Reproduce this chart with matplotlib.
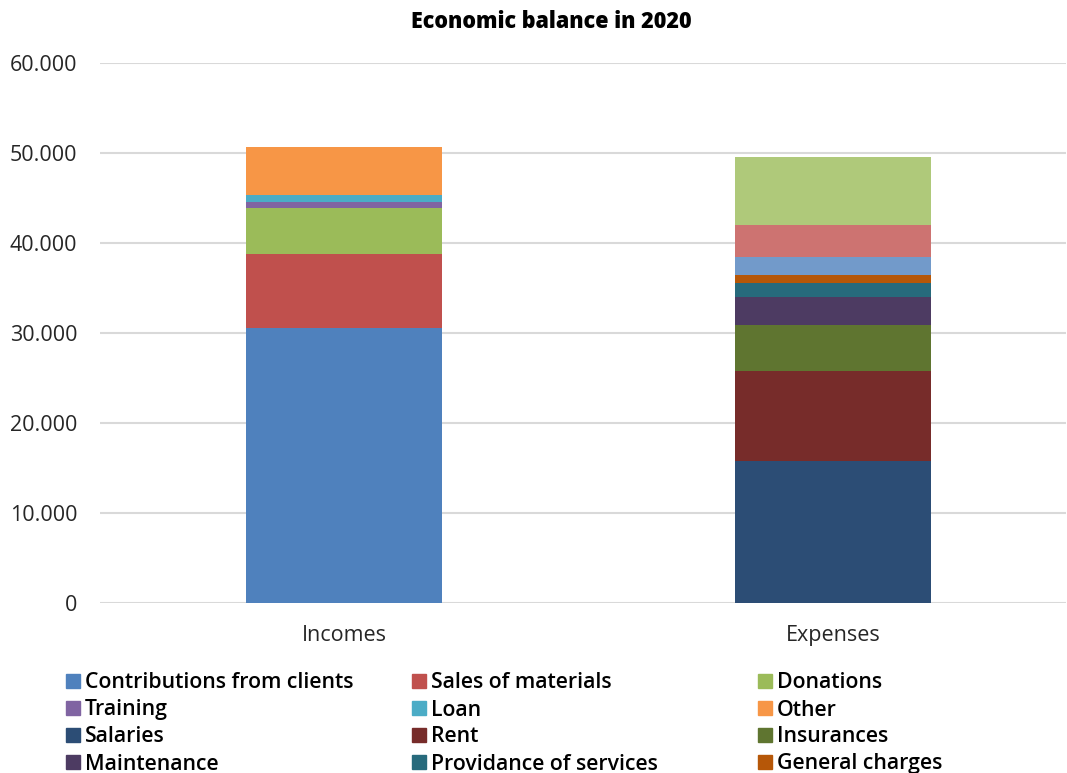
import numpy as np
import matplotlib
matplotlib.use("Agg")
import matplotlib.pyplot as plt
from matplotlib.patches import Rectangle

plt.rcParams['font.family'] = ['Open Sans', 'DejaVu Sans']

# data
categories = ["Incomes", "Expenses"]

income_labels = ["Contributions from clients", "Sales of materials", "Donations",
                 "Training", "Loan", "Other"]
income_values = [30600, 8200, 5100, 600, 800, 5400]
income_colors = ["#4F81BD", "#C0504D", "#9BBB59", "#8064A2", "#4BACC6", "#F79646"]

# the last three expense items have no visible legend entry in the picture
expense_labels = ["Salaries", "Rent", "Insurances", "Maintenance",
                  "Providance of services", "General charges",
                  "Supplies", "Utilities", "Other expenses"]
expense_values = [15800, 10000, 5100, 3100, 1550, 900, 2000, 3550, 7600]
expense_colors = ["#2C4D75", "#772C2A", "#5F7530", "#4D3B62", "#276A7C", "#B65708",
                  "#729ACA", "#CD7371", "#AFC97A"]

yticks = [0, 10000, 20000, 30000, 40000, 50000, 60000]
ytick_labels = ["0", "10.000", "20.000", "30.000", "40.000", "50.000", "60.000"]

W, H = 1067, 773
fig = plt.figure(figsize=(W / 100, H / 100), dpi=100)
ax = fig.add_axes([100 / W, 1 - 603 / H, (1066 - 100) / W, (603 - 63) / H])

bar_w = 0.40
x = np.arange(len(categories))

bottom = 0
for lab, val, col in zip(income_labels, income_values, income_colors):
    ax.bar(x[0], val, bar_w, bottom=bottom, color=col, label=lab, zorder=3)
    bottom += val

bottom = 0
for lab, val, col in zip(expense_labels, expense_values, expense_colors):
    ax.bar(x[1], val, bar_w, bottom=bottom, color=col, label=lab, zorder=3)
    bottom += val

ax.set_xlim(-0.499, 1.476)
ax.set_ylim(0, 60000)
ax.set_yticks(yticks)
ax.set_yticklabels(ytick_labels, fontsize=15.5, color="#262626")
ax.set_xticks(x)
ax.set_xticklabels(categories, fontsize=15.5, color="#262626")
ax.tick_params(length=0)
ax.tick_params(axis="y", pad=16.5)
ax.tick_params(axis="x", pad=16)
for s in ax.spines.values():
    s.set_visible(False)
ax.grid(axis="y", color="#D9D9D9", linewidth=1.5, zorder=0)

fig.text(551 / W, 1 - 22 / H, "Economic balance in 2020", ha="center", va="center",
         fontsize=15.5, fontweight=800, color="black")

# legend: 3 columns filled row by row, only the twelve visible entries
leg_labels = income_labels + expense_labels[:6]
leg_colors = income_colors + expense_colors[:6]
col_x = [66, 412, 758]
row_y0, row_dy = 681, 27
for i, (lab, col) in enumerate(zip(leg_labels, leg_colors)):
    cx = col_x[i % 3]
    cy = row_y0 + row_dy * (i // 3)
    fig.patches.append(Rectangle((cx / W, 1 - (cy + 7) / H), 14 / W, 14 / H,
                                 transform=fig.transFigure, color=col, figure=fig))
    fig.text((cx + 19) / W, 1 - (cy + 2) / H, lab, ha="left", va="center",
             fontsize=15.3, fontweight="semibold", color="black")

fig.savefig("out.png", dpi=100)
